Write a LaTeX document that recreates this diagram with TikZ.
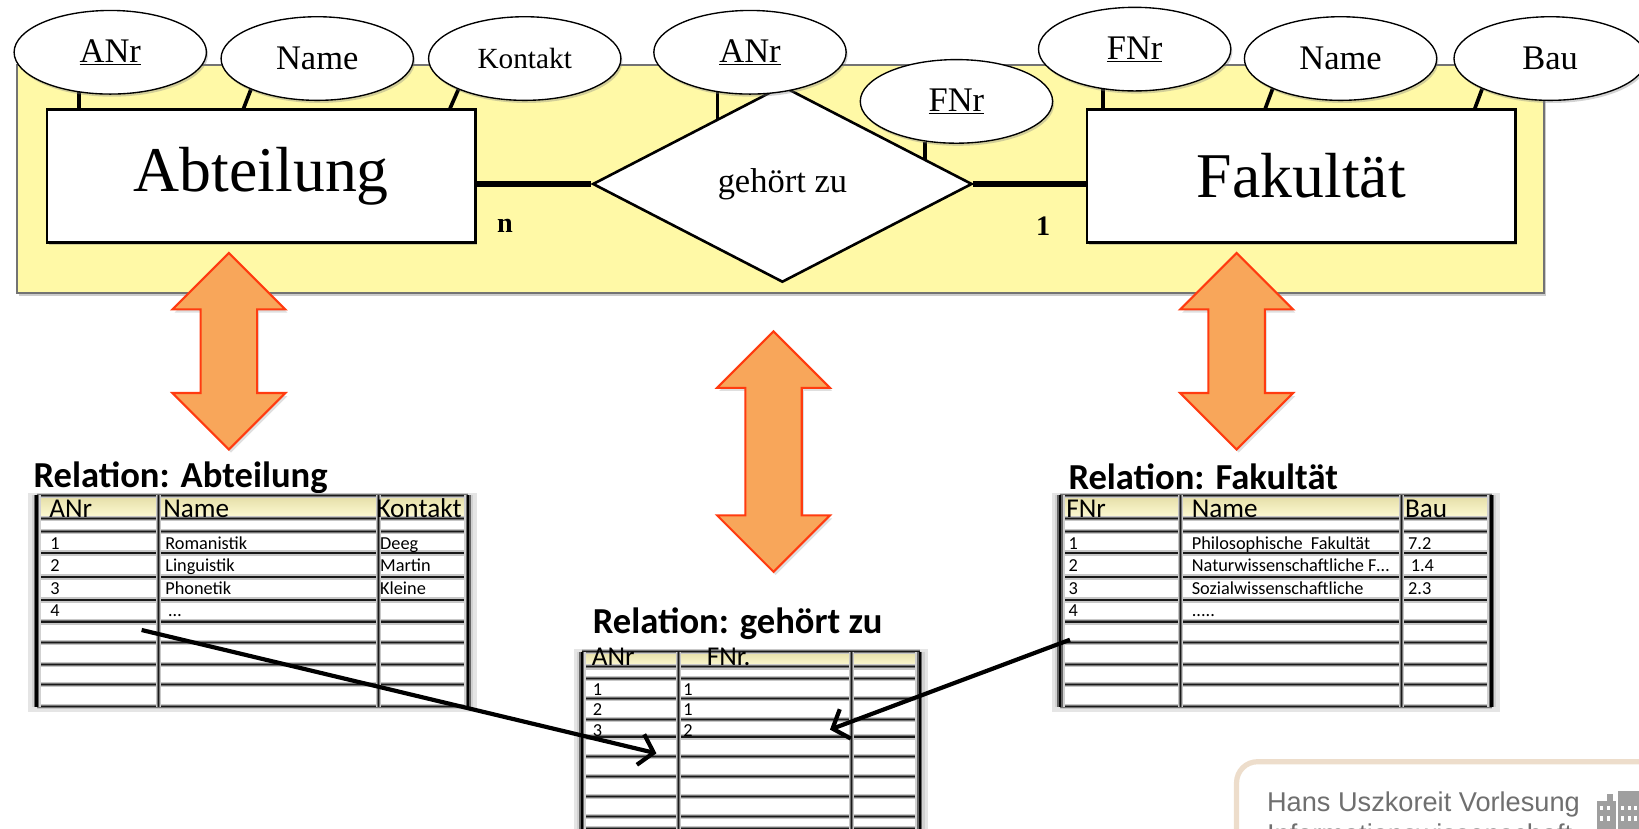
\documentclass[tikz,border=0pt]{standalone}
\usepackage{fontspec}
\setmainfont{Liberation Serif}
\newfontfamily\calfont{Carlito}
\newfontfamily\helvfont{Liberation Sans}
\usetikzlibrary{shapes.geometric,shadows,calc,arrows.meta}
\definecolor{erbg}{HTML}{FFF9A6}
\definecolor{orfill}{HTML}{F8A65A}
\definecolor{ordraw}{HTML}{FF3B10}
\definecolor{hdr}{HTML}{FFFCD6}
\definecolor{hdrtop}{HTML}{E4DDA6}
\definecolor{wmtan}{HTML}{EDDDCB}
\definecolor{wmtext}{HTML}{6F6F6F}
\pgfdeclarelayer{back}
\pgfdeclarelayer{mid}
\pgfsetlayers{back,mid,main}
\newcommand\tabh[3]{%
  \draw[tb0] (#1,#3) -- (#2,#3);
  \draw[tb1] (#1,#3) -- (#2,#3);
  \draw[tb2] (#1,#3) -- (#2,#3);}
\newcommand\tabv[3]{%
  \draw[tb0] (#1,#2) -- (#1,#3);
  \draw[tb1] (#1,#2) -- (#1,#3);
  \draw[tb2] (#1,#2) -- (#1,#3);}
\newcommand\tabvo[3]{%
  \draw[tbo0] (#1,#2) -- (#1,#3);
  \draw[tbo1] (#1,#2) -- (#1,#3);
  \draw[tbo2] (#1,#2) -- (#1,#3);}
\newcommand\dblarrow[3]{%
  \draw[orarrow] (#1,#2) -- ++(54,54) -- ++(-27,0) -- (#1+27,#3-54) -- ++(27,0)
    -- (#1,#3) -- ++(-54,-54) -- ++(27,0) -- (#1-27,#2+54) -- ++(-27,0) -- cycle;}
\begin{document}
\begin{tikzpicture}[x=1pt,y=-1pt,
  myshadow/.style={drop shadow={shadow xshift=1.5pt,shadow yshift=-2.5pt,opacity=0.35}},
  entity/.style={draw,line width=2.5pt,fill=white,minimum width=410pt,minimum height=127pt,
    inner sep=0pt,font=\fontsize{61}{61}\selectfont,myshadow},
  attrib/.style={ellipse,draw,line width=1.3pt,fill=white,minimum width=184pt,minimum height=80pt,
    inner sep=0pt,font=\fontsize{33}{33}\selectfont,myshadow},
  relship/.style={diamond,draw,line width=2.5pt,fill=white,minimum width=363pt,minimum height=188pt,
    inner sep=0pt,font=\fontsize{33}{33}\selectfont},
  attrline/.style={line width=3.5pt},
  relline/.style={line width=6pt},
  card/.style={font=\bfseries\fontsize{27}{27}\selectfont,inner sep=0pt},
  orarrow/.style={fill=orfill,draw=ordraw,line width=2pt,line join=miter,
    drop shadow={shadow xshift=2pt,shadow yshift=-3pt,opacity=0.25}},
  reltitle/.style={anchor=base west,font=\calfont\bfseries\fontsize{35}{35}\selectfont,inner sep=0pt},
  thead/.style={anchor=base west,font=\calfont\fontsize{26}{26}\selectfont,inner sep=0pt},
  tdata/.style={anchor=base west,font=\calfont\fontsize{17.5}{17.5}\selectfont,inner sep=0pt},
  tb0/.style={line width=5pt,draw=black!22},
  tb1/.style={line width=2.8pt,draw=black!55},
  tb2/.style={line width=1.1pt,draw=black!90},
  tbo0/.style={line width=9pt,draw=black!18},
  tbo1/.style={line width=5pt,draw=black!60},
  tbo2/.style={line width=2.2pt,draw=black},
  fkarrow/.style={line width=4pt,-{Straight Barb[length=13pt,width=30pt]}},
  wmstyle/.style={anchor=base west,font=\helvfont\fontsize{26}{26}\selectfont,text=wmtext,inner sep=0pt}
]
\useasboundingbox (0,0) rectangle (1568,793);

% ---------- ER diagram ----------
\node[entity] (abt) at (250,168.5) {Abteilung};
\node[entity] (fak) at (1245,168.5) {Fakult\"at};
\node[relship] (rel) at (748.5,176) {geh\"ort zu};

\node[attrib] (anrA) at (105.5,50) {\underline{ANr}};
\node[attrib] (nameA) at (303.5,56) {Name};
\node[attrib,font=\fontsize{28}{28}\selectfont] (kontA) at (502,56) {Kontakt};
\node[attrib] (anrB) at (717.5,50) {\underline{ANr}};
\node[attrib] (fnrB) at (915,97) {\underline{FNr}};
\node[attrib] (fnrC) at (1085.5,47) {\underline{FNr}};
\node[attrib] (nameC) at (1282.5,56) {Name};
\node[attrib] (bauC) at (1483,56) {Bau};

\node[card] (cardn) at (483,216) {n};
\node[card] (card1) at (998,216) {1};

\begin{pgfonlayer}{back}
  \fill[erbg,draw=black!55,line width=2pt,
    drop shadow={shadow xshift=2pt,shadow yshift=-3pt,opacity=0.4}] (16.5,62) rectangle (1477,280.5);
\end{pgfonlayer}
\begin{pgfonlayer}{mid}
  \draw[attrline] (anrA.232) -- (anrA.232 |- abt.north);
  \draw[attrline] (nameA.205) -- ([xshift=-7pt]nameA.205 |- abt.north);
  \draw[attrline] (kontA.205) -- ([xshift=-8pt]kontA.205 |- abt.north);
  \draw[attrline] (anrB.231) -- (anrB.231 |- rel.center);
  \draw[attrline] (fnrB.232) -- (fnrB.232 |- rel.center);
  \draw[attrline] (fnrC.232) -- (fnrC.232 |- fak.north);
  \draw[attrline] (nameC.204) -- ([xshift=-7pt]nameC.204 |- fak.north);
  \draw[attrline] (bauC.204) -- ([xshift=-7pt]bauC.204 |- fak.north);
  \draw[relline] (rel.west -| abt.east) -- (rel.west);
  \draw[relline] (rel.east) -- (rel.east -| fak.west);
\end{pgfonlayer}

% ---------- orange double arrows ----------
\dblarrow{219}{242}{430}
\dblarrow{740}{317}{547}
\dblarrow{1183}{242}{430}

% ---------- Relation: Abteilung ----------
\node[reltitle] (tA) at (32,466) {Relation: Abteilung};
\fill[black!10] (27,472) rectangle (456,681);
\fill[white] (35,474) rectangle (448,676);
\shade[top color=hdrtop,bottom color=hdr] (35,474) rectangle (448,496);
\foreach \yy in {474,496,508.6,529,552,574,595,615,636,655,676} {\tabh{35}{448}{\yy}}
\foreach \xx in {151.5,362} {\tabv{\xx}{474}{676}}
\tabvo{35}{474}{676}
\tabvo{448}{474}{676}
\node[thead] (aH1) at (47,495) {ANr};
\node[thead] (aH2) at (156,495) {Name};
\node[thead] (aH3) at (360,495) {Kontakt};
\node[tdata] (a11) at (48,526) {1};
\node[tdata] (a12) at (158,526) {Romanistik};
\node[tdata] (a13) at (363.5,526) {Deeg};
\node[tdata] (a21) at (48,546.5) {2};
\node[tdata] (a22) at (158,546.5) {Linguistik};
\node[tdata] (a23) at (363.5,546.5) {Martin};
\node[tdata] (a31) at (48,569) {3};
\node[tdata] (a32) at (158,569) {Phonetik};
\node[tdata] (a33) at (363.5,569) {Kleine};
\node[tdata] (a41) at (48,590) {4};
\node[tdata] (a42) at (161,590) {\dots};

% ---------- Relation: Fakultät ----------
\node[reltitle] (tF) at (1022,468) {Relation: Fakult\"at};
\fill[black!10] (1006,472) rectangle (1435,681);
\fill[white] (1014,474) rectangle (1427,676);
\shade[top color=hdrtop,bottom color=hdr] (1014,474) rectangle (1427,496);
\foreach \yy in {474,496,508.6,529,552,574,595,615,636,655,676} {\tabh{1014}{1427}{\yy}}
\foreach \xx in {1129,1341} {\tabv{\xx}{474}{676}}
\tabvo{1014}{474}{676}
\tabvo{1427}{474}{676}
\node[thead] (fH1) at (1020,495) {FNr};
\node[thead] (fH2) at (1140,495) {Name};
\node[thead] (fH3) at (1344,495) {Bau};
\node[tdata] (f11) at (1022,526) {1};
\node[tdata] (f12) at (1140,526) {Philosophische\ \ Fakult\"at};
\node[tdata] (f13) at (1347,526) {7.2};
\node[tdata] (f21) at (1022,546.5) {2};
\node[tdata] (f22) at (1140,546.5) {Naturwissenschaftliche F\dots};
\node[tdata] (f23) at (1349.5,546.5) {1.4};
\node[tdata] (f31) at (1022,569) {3};
\node[tdata] (f32) at (1140,569) {Sozialwissenschaftliche};
\node[tdata] (f33) at (1347,569) {2.3};
\node[tdata] (f41) at (1022,590) {4};
\node[tdata] (f42) at (1140,590) {.....};

% ---------- Relation: gehört zu ----------
\node[reltitle] (tG) at (567,606) {Relation: geh\"ort zu};
\fill[black!10] (549,621) rectangle (888,800);
\fill[white] (556.5,623.4) rectangle (880,800);
\shade[top color=hdrtop,bottom color=hdr] (556.5,623.4) rectangle (880,638);
\foreach \yy in {623.4,638,649,668,688,705,724,743,762,781,793} {\tabh{556.5}{880}{\yy}}
\foreach \xx in {649,814.8} {\tabv{\xx}{623.4}{800}}
\tabvo{556.5}{623.4}{800}
\tabvo{880}{623.4}{800}
\node[thead] (gH1) at (566,637) {ANr};
\node[thead] (gH2) at (676,637) {FNr.};
\node[tdata] (g11) at (567,665) {1};
\node[tdata] (g12) at (653.5,665) {1};
\node[tdata] (g21) at (567,684.5) {2};
\node[tdata] (g22) at (653.5,684.5) {1};
\node[tdata] (g31) at (567,704.5) {3};
\node[tdata] (g32) at (653.5,704.5) {2};

% ---------- black arrows ----------
\coordinate (abtRow) at (135.5,602.7);
\coordinate (gzA) at (628,720.7);
\coordinate (fakRow) at (1023.6,612);
\coordinate (gzF) at (794,698);
\draw[fkarrow] (abtRow) -- (gzA);
\draw[fkarrow] (fakRow) -- (gzF);

% ---------- watermark ----------
\draw[wmtan,line width=5pt,fill=white,rounded corners=20pt] (1183,728.7) rectangle (1660,870);
\node[wmstyle] (wm1) at (1212,776.5) {Hans Uszkoreit Vorlesung};
\node[wmstyle] (wm2) at (1212,806.5) {Informationswissenschaft};
\begin{scope}[gray!75]
  \fill (1528,766) rectangle (1546,800);
  \fill (1548,757) rectangle (1570,800);
  \fill (1537,760) rectangle (1543,766);
  \foreach \wx in {1531,1537,1551,1557,1563} {\fill[white] (\wx,771) rectangle ++(3,4);\fill[white] (\wx,781) rectangle ++(3,4);}
\end{scope}
\end{tikzpicture}
\end{document}
